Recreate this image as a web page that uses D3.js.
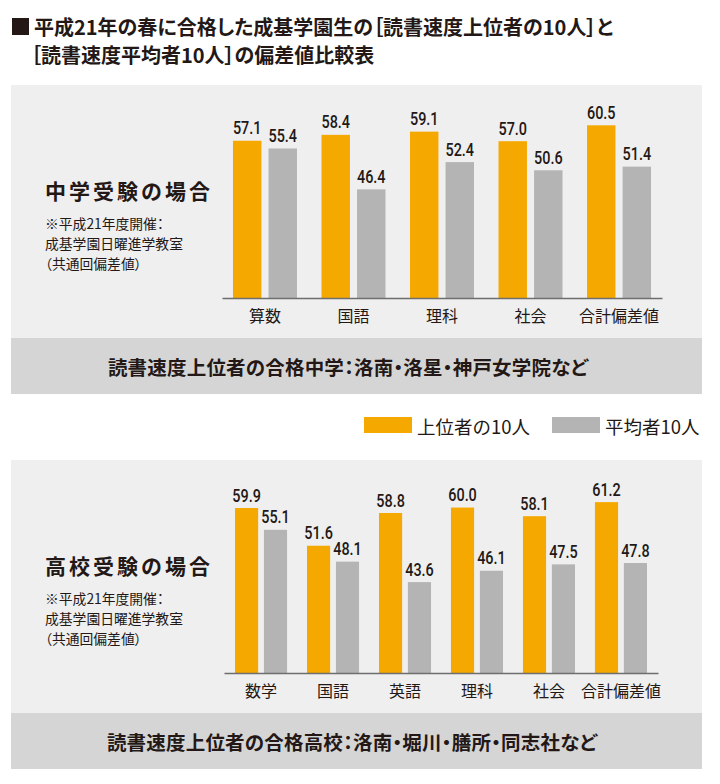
<!DOCTYPE html>
<html>
<head>
<meta charset="utf-8">
<script src="https://cdn.jsdelivr.net/npm/d3@7"></script>
<style>
  body { margin: 0; background: #fff; }
  svg text { font-family: "Noto Sans CJK JP", "Noto Sans", sans-serif; fill: #231815; }
  .num { font-family: Roboto, "Liberation Sans", sans-serif; }
  .palt { font-feature-settings: "palt"; }
</style>
</head>
<body>
<svg id="chart" width="720" height="784"></svg>
<script>
// データ
const seriesNames = ["上位者の10人", "平均者10人"];

const juniorCategories = ["算数", "国語", "理科", "社会", "合計偏差値"];
const juniorTop = [57.1, 58.4, 59.1, 57.0, 60.5];
const juniorAvg = [55.4, 46.4, 52.4, 50.6, 51.4];

const highCategories = ["数学", "国語", "英語", "理科", "社会", "合計偏差値"];
const highTop = [59.9, 51.6, 58.8, 60.0, 58.1, 61.2];
const highAvg = [55.1, 48.1, 43.6, 46.1, 47.5, 47.8];

const titleLines = [
  "平成21年の春に合格した成基学園生の［読書速度上位者の10人］と",
  "［読書速度平均者10人］の偏差値比較表",
];
const noteLines = ["※平成21年度開催：", "成基学園日曜進学教室", "（共通回偏差値）"];

// 色
const color = d3.scaleOrdinal().domain(["top", "avg"]).range(["#f5a900", "#b4b4b4"]);

const svg = d3.select("#chart");

// タイトル
svg.append("rect").attr("x", 12).attr("y", 18).attr("width", 17).attr("height", 17).attr("fill", "#231815");
svg.append("text").attr("class", "palt").attr("x", 34).attr("y", 35)
  .style("font-size", "20px").style("font-weight", 700).text(titleLines[0]);
svg.append("text").attr("class", "palt").attr("x", 31).attr("y", 63)
  .style("font-size", "20px").style("font-weight", 700).text(titleLines[1]);

// 凡例
const legend = svg.append("g").attr("transform", "translate(364,417)");
[["top", 0, 53], ["avg", 188, 53]].forEach(([key, x0, tx], i) => {
  legend.append("rect").attr("x", x0).attr("y", 0).attr("width", 48).attr("height", 16).attr("fill", color(key));
  legend.append("text").attr("x", x0 + tx).attr("y", 16.5)
    .style("font-size", "18.5px").text(seriesNames[i]);
});

function drawPanel(cfg) {
  const g = svg.append("g").attr("transform", `translate(0,${cfg.top})`);

  // 背景
  g.append("rect").attr("x", 11).attr("y", 0).attr("width", 691).attr("height", 253).attr("fill", "#efefef");
  g.append("rect").attr("x", 11).attr("y", 253).attr("width", 691).attr("height", 56).attr("fill", "#d5d5d6");

  // 見出し
  g.append("text").attr("x", 45).attr("y", 114)
    .style("font-size", "21px").style("font-weight", 700).style("letter-spacing", "3px")
    .text(cfg.heading);
  noteLines.forEach((t, i) => {
    g.append("text").attr("class", "palt").attr("x", 45).attr("y", 144 + i * 20)
      .style("font-size", "13.8px").text(t);
  });

  const baseline = 213;
  const plotH = 200;
  const y = d3.scaleLinear()
    .domain([cfg.yFloor, cfg.yFloor + plotH / 4.545])
    .range([baseline, baseline - plotH]);

  const x = d3.scaleBand().domain(cfg.categories).range(cfg.xRange)
    .paddingInner(0.277).paddingOuter(cfg.outer);
  const xSub = d3.scaleBand().domain(["top", "avg"]).range([0, x.bandwidth()]).paddingInner(0.2);

  const data = cfg.categories.map((c, i) => ({ cat: c, top: cfg.top10[i], avg: cfg.avg[i] }));

  const groups = g.append("g").selectAll("g").data(data).join("g")
    .attr("transform", (d) => `translate(${x(d.cat)},0)`);

  const bars = groups.selectAll("g").data((d) => ["top", "avg"].map((k) => ({ key: k, value: d[k] })))
    .join("g");

  bars.append("rect")
    .attr("x", (d) => xSub(d.key))
    .attr("y", (d) => y(d.value))
    .attr("width", xSub.bandwidth())
    .attr("height", (d) => baseline - y(d.value))
    .attr("fill", (d) => color(d.key));

  // 数値ラベル（横に詰める）
  bars.append("text").attr("class", "num")
    .attr("transform", (d) => `translate(${xSub(d.key) + xSub.bandwidth() / 2},${y(d.value) - 6.5}) scale(0.8,1)`)
    .attr("text-anchor", "middle")
    .style("font-size", "18px").style("font-weight", 500)
    .text((d) => d.value.toFixed(1));

  // X軸
  const axis = g.append("g").attr("transform", `translate(0,${baseline})`)
    .call(d3.axisBottom(x).tickSize(0).tickSizeOuter(0));
  axis.select(".domain").attr("stroke", "#6e6e6e").attr("stroke-width", 1.5);
  axis.selectAll("text").attr("y", 24).attr("dy", 0)
    .style("font-size", "16px").style("font-family", '"Noto Sans CJK JP", sans-serif')
    .attr("fill", "#231815");

  // 合格校
  g.append("text").attr("class", "palt").attr("x", cfg.bandX).attr("y", 290)
    .attr("text-anchor", "middle")
    .style("font-size", "19.5px").style("font-weight", 700).style("letter-spacing", "0.2px")
    .text(cfg.schools);
}

drawPanel({
  top: 85,
  heading: "中学受験の場合",
  categories: juniorCategories,
  top10: juniorTop,
  avg: juniorAvg,
  yFloor: 22.5,
  xRange: [222, 662],
  outer: 0.124,
  bandX: 348,
  schools: "読書速度上位者の合格中学：洛南・洛星・神戸女学院など",
});

drawPanel({
  top: 460,
  heading: "高校受験の場合",
  categories: highCategories,
  top10: highTop,
  avg: highAvg,
  yFloor: 23.6,
  xRange: [224, 658],
  outer: 0.153,
  bandX: 352,
  schools: "読書速度上位者の合格高校：洛南・堀川・膳所・同志社など",
});
</script>
</body>
</html>
